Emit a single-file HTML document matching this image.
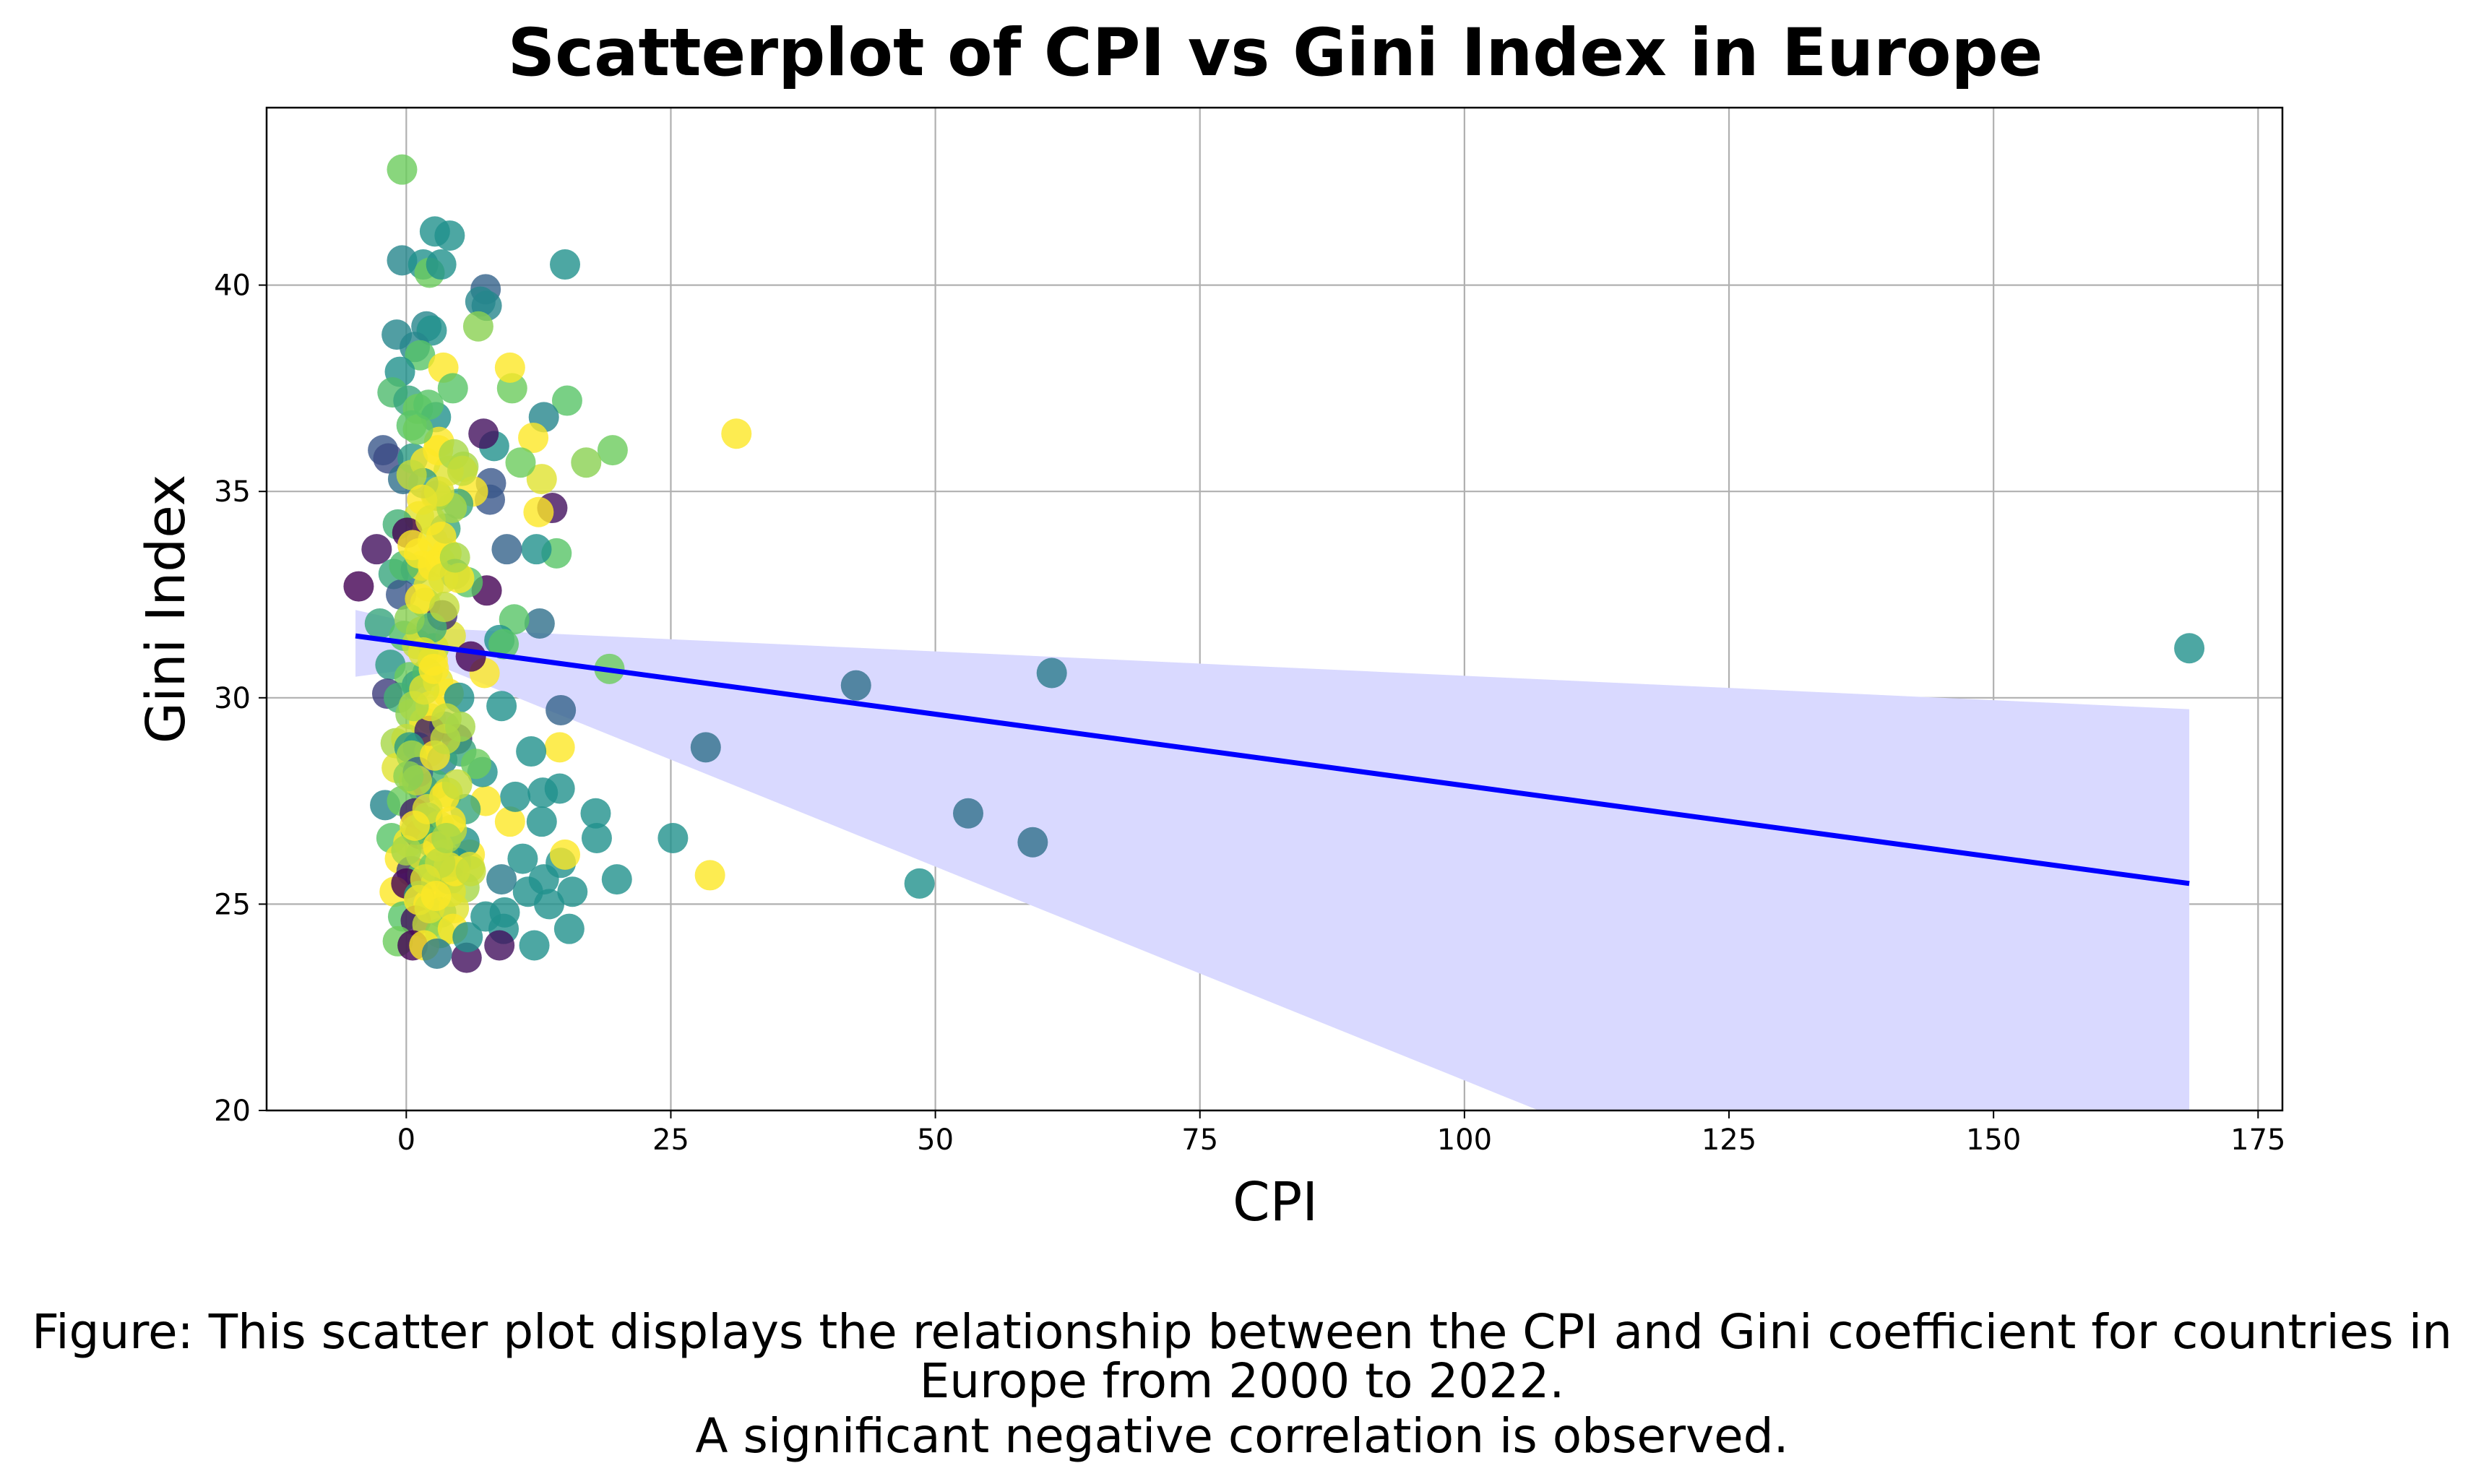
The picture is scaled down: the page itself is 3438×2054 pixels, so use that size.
<!DOCTYPE html>
<html><head><meta charset="utf-8"><style>
html,body{margin:0;padding:0;background:#fff;}
svg{display:block;}
text{font-family:"DejaVu Sans","Liberation Sans",sans-serif;}
</style></head><body>
<svg id="chart" width="3438" height="2054" viewBox="0 0 3438 2054" xmlns="http://www.w3.org/2000/svg">
<defs><clipPath id="plotclip"><rect x="369" y="149" width="2790" height="1388"/></clipPath></defs>
<rect width="3438" height="2054" fill="#fff"/>
<text x="1765" y="104" text-anchor="middle" font-size="91" font-weight="bold">Scatterplot of CPI vs Gini Index in Europe</text>
<g id="grid"></g>
<g id="band" clip-path="url(#plotclip)"></g>
<g id="points" clip-path="url(#plotclip)"></g>
<g id="fit" clip-path="url(#plotclip)"></g>
<rect x="369" y="149" width="2790" height="1388" fill="none" stroke="#000" stroke-width="2.5"/>
<g id="ticks"></g>
<text x="1765" y="1689" text-anchor="middle" font-size="74">CPI</text>
<text x="0" y="0" transform="translate(255,843) rotate(-90)" text-anchor="middle" font-size="74">Gini Index</text>
<g font-size="66" text-anchor="middle">
<text x="1719" y="1866">Figure: This scatter plot displays the relationship between the CPI and Gini coefficient for countries in</text>
<text x="1719" y="1934">Europe from 2000 to 2022.</text>
<text x="1719" y="2010">A significant negative correlation is observed.</text>
</g>
</svg>
<script>
const xTicks=[0,25,50,75,100,125,150,175];
const yTicks=[20,25,30,35,40];
const cpi=[168.5,61,42.5,53.1,59.2,48.5,28.3,25.2,28.7,31.2,19.5,17,15.2,15,19.2,19.9,18,17.9,15.4,15.7,14.6,14.5,14.6,15,14.5,14.2,13.8,13,12.5,12,12.8,12.6,12.3,12.1,12.8,12.9,13.5,13,11.5,11,11.8,10.2,10,9.8,10.8,9.5,9.8,10.3,9.3,9.2,9,8.8,9,8.8,9.2,8.3,8,7.9,7.5,7.6,7.3,7,6.8,7.6,7.4,7.5,7.2,7.5,5.7,6,5.5,
-0.4,-0.4,-0.9,2.7,4.1,1.6,2.2,3.3,1.9,2.4,0.8,1.3,3.5,-0.6,-1.3,0.2,1.1,2.8,4.4,0.5,3.1,-2.2,-1.7,-0.3,0.6,1.8,5.4,6.3,4.9,2.9,1.2,-0.8,0.1,2.5,3.8,-2.8,-1.2,0.9,1.5,3.2,4.6,5.8,2.1,-0.5,-4.5,-2.5,-0.2,1.4,2.6,4.2,6.1,-1.5,0.3,1.0,2.0,3.0,4.0,5.0,-1.8,-0.7,0.4,1.7,2.3,3.6,4.8,-1.0,0.0,1.1,2.2,3.4,5.2,6.6,-0.9,0.7,1.6,2.7,3.9,5.6,-2.0,-0.4,0.8,1.9,3.1,4.3,-1.4,0.2,1.3,2.4,3.5,4.7,6.0,-0.6,0.5,1.5,2.8,4.1,5.5,-1.1,0.0,1.2,2.1,3.3,4.5,-0.3,0.9,2.0,3.2,4.4,5.8,-0.8,0.6,1.7,2.9,4.0,-0.2,1.0,2.2,3.6,5.0,0.3,1.4,2.6,3.7,1.8,2.5,3.0,2.0,1.2,0.5,2.8,3.4,4.2,1.6,2.3,0.9,3.8,2.4,1.1,4.6,5.3,3.1,2.7,1.5,0.4,6.4,5.9,4.9,7.0,6.2,8.2];
const gini=[31.2,30.6,30.3,27.2,26.5,25.5,28.8,26.6,25.7,36.4,36.0,35.7,37.2,40.5,30.7,25.6,26.6,27.2,24.4,25.3,29.7,27.8,26.0,26.2,28.8,33.5,34.6,36.8,34.5,36.3,35.3,31.8,33.6,24.0,27.0,27.7,25.0,25.6,25.3,26.1,28.7,31.9,37.5,38.0,35.7,33.6,27.0,27.6,24.8,24.4,25.6,24.0,29.8,31.4,31.3,36.1,35.2,34.8,39.9,39.5,36.4,39.6,39.0,32.6,30.6,27.5,28.2,24.7,23.7,26.2,26.5,
42.8,40.6,38.8,41.3,41.2,40.5,40.3,40.5,39.0,38.9,38.5,38.3,38.0,37.9,37.4,37.2,37.0,36.8,37.5,36.6,36.2,36.0,35.8,35.3,35.8,35.7,35.6,35.0,34.7,34.9,34.4,34.2,34.0,33.8,33.5,33.6,33.0,33.1,33.2,33.3,33.0,32.8,32.7,32.5,32.7,31.8,31.5,31.6,31.2,31.5,31.0,30.8,30.5,30.3,30.6,30.4,30.1,30.0,30.1,30.0,29.6,29.4,29.5,29.3,29.0,28.9,29.0,28.8,28.7,28.5,28.7,28.4,28.3,28.0,27.8,27.9,27.7,27.3,27.4,27.5,27.2,27.0,26.9,26.8,26.6,26.5,26.7,26.5,26.2,26.0,25.9,26.1,25.8,25.7,25.5,25.6,25.4,25.3,25.5,25.2,25.0,24.8,24.9,24.7,24.6,24.5,24.3,24.4,24.2,24.1,24.0,24.0,23.8,35.5,33.2,31.3,29.2,27.6,32.9,28.8,26.2,25.9,34.1,32.3,30.9,36.0,27.1,33.5,28.6,34.9,32.0,25.3,35.2,29.8,26.8,29.5,31.7,28.2,25.8];
const year=[2011,2009,2008,2008,2008,2011,2008,2011,2022,2022,2017,2018,2016,2011,2017,2011,2011,2011,2011,2011,2007,2011,2011,2022,2022,2016,2001,2010,2022,2022,2021,2008,2011,2011,2011,2011,2011,2011,2011,2011,2011,2016,2017,2022,2017,2007,2022,2011,2011,2011,2009,2001,2011,2011,2016,2011,2006,2006,2007,2010,2001,2010,2018,2000,2022,2022,2011,2011,2001,2022,2011,
2017,2010,2010,2011,2011,2011,2017,2011,2010,2011,2010,2016,2022,2011,2015,2013,2017,2011,2016,2016,2022,2006,2005,2008,2012,2022,2019,2022,2013,2015,2021,2014,2000,2021,2022,2001,2013,2010,2022,2022,2013,2016,2021,2006,2000,2013,2016,2022,2019,2021,2000,2012,2017,2013,2015,2021,2022,2011,2004,2014,2018,2022,2021,2012,2003,2019,2020,2011,2022,2010,2013,2017,2021,2022,2006,2014,2021,2013,2010,2017,2002,2011,2021,2020,2016,2022,2000,2013,2020,2011,2021,2022,2004,2016,2022,2013,2019,2022,2000,2012,2022,2014,2021,2016,2001,2020,2018,2022,2011,2017,2000,2022,2009,2021,2015,2020,2002,2022,2022,2012,2021,2017,2013,2020,2022,2022,2015,2022,2019,2020,2003,2021,2012,2022,2015,2020,2014,2007,2022,2018,2021,2016,2019,2011,2017,2022];
const cpi2=[0.5,1.5,2.5,3.5,4.5,1.0,2.0,3.0,4.0,0.0,1.2,2.2,3.2,4.2,0.7,1.7,2.7,3.7,0.3,1.3,2.3,3.3,4.3,5.3,0.8,1.8,2.8,3.8,4.8,0.2,1.6,2.6,3.6,4.6,1.1,2.1,3.1,0.6,5.1,6.1];
const gini2=[35.4,34.8,33.2,32.9,35.9,28.0,27.3,26.4,25.9,26.3,25.1,24.9,26.0,27.0,29.8,30.2,28.6,29.0,31.9,32.4,34.3,33.9,34.6,35.5,26.9,25.6,25.2,26.6,27.9,28.1,31.1,30.7,32.2,33.4,36.5,37.1,35.0,33.7,29.3,25.8];
const year2=[2020,2022,2022,2021,2019,2020,2021,2022,2021,2019,2022,2021,2020,2022,2019,2021,2022,2020,2018,2022,2021,2022,2019,2020,2022,2021,2022,2019,2020,2018,2021,2022,2020,2019,2017,2016,2021,2022,2019,2020];
const fitX=[-4.8,168.5];
const fitY=[31.5,25.5];
const NS='http://www.w3.org/2000/svg';
const L=369,R=3159,T=149,B=1537;
const xMin=-13.2,xMax=177.3,yMin=20,yMax=44.3;
function sx(v){return L+(v-xMin)/(xMax-xMin)*(R-L);}
function sy(v){return B-(v-yMin)/(yMax-yMin)*(B-T);}
const vir=[[68,1,84],[59,82,139],[33,145,140],[94,201,98],[253,231,37]];
function col(yr){let t=(yr-2000)/22;if(!isFinite(t))t=0.5;t=Math.max(0,Math.min(1,t))*4;const i=Math.min(3,Math.floor(t)),f=t-i;const a=vir[i],b=vir[i+1];return 'rgb('+a.map((c,k)=>Math.round(c+(b[k]-c)*f)).join(',')+')';}
function mk(tag,attrs,parent){const e=document.createElementNS(NS,tag);for(const k in attrs)e.setAttribute(k,attrs[k]);parent.appendChild(e);return e;}
const grid=document.getElementById('grid'),ticks=document.getElementById('ticks');
xTicks.forEach(v=>{const x=sx(v);
const g=mk('line',{x1:x,x2:x,y1:T,y2:B,stroke:'#b0b0b0','stroke-width':2.2},grid);


const t=mk('line',{x1:x,x2:x,y1:B,y2:B+11,stroke:'#000','stroke-width':2},ticks);


const l=mk('text',{x:x,y:B+54,'text-anchor':'middle','font-size':40},ticks);l.textContent=v;

});
yTicks.forEach(v=>{const y=sy(v);
const g=mk('line',{x1:L,x2:R,y1:y,y2:y,stroke:'#b0b0b0','stroke-width':2.2},grid);


const t=mk('line',{x1:L-11,x2:L,y1:y,y2:y,stroke:'#000','stroke-width':2},ticks);


const l=mk('text',{x:L-22,y:y+14,'text-anchor':'end','font-size':40},ticks);l.textContent=v;

});
function fit(x){return fitY[0]+(fitY[1]-fitY[0])*(x-fitX[0])/(fitX[1]-fitX[0]);}
const up=[],lo=[];
for(let i=0;i<=40;i++){const x=fitX[0]+(fitX[1]-fitX[0])*i/40;const d=Math.abs(x-3);up.push([x,fit(x)+0.45+0.0228*d]);lo.push([x,fit(x)-0.45-0.069*d]);}
const pts=up.concat(lo.reverse()).map(p=>sx(p[0]).toFixed(1)+','+sy(p[1]).toFixed(1)).join(' ');
const band=mk('polygon',{points:pts,fill:'#d9d9ff'},document.getElementById('band'));


const pg=document.getElementById('points');
function drawPts(xs,ys,yrs){const n=Math.min(xs.length,ys.length);
for(let i=0;i<n;i++){
const c=mk('circle',{cx:sx(xs[i]),cy:sy(ys[i]),r:21,fill:col(yrs[i]),'fill-opacity':0.8},pg);

}}
drawPts(cpi,gini,year);
drawPts(cpi2,gini2,year2);
const ln=mk('line',{x1:sx(fitX[0]),y1:sy(fitY[0]),x2:sx(fitX[1]),y2:sy(fitY[1]),stroke:'#0000ff','stroke-width':7},document.getElementById('fit'));


</script>
</body></html>
